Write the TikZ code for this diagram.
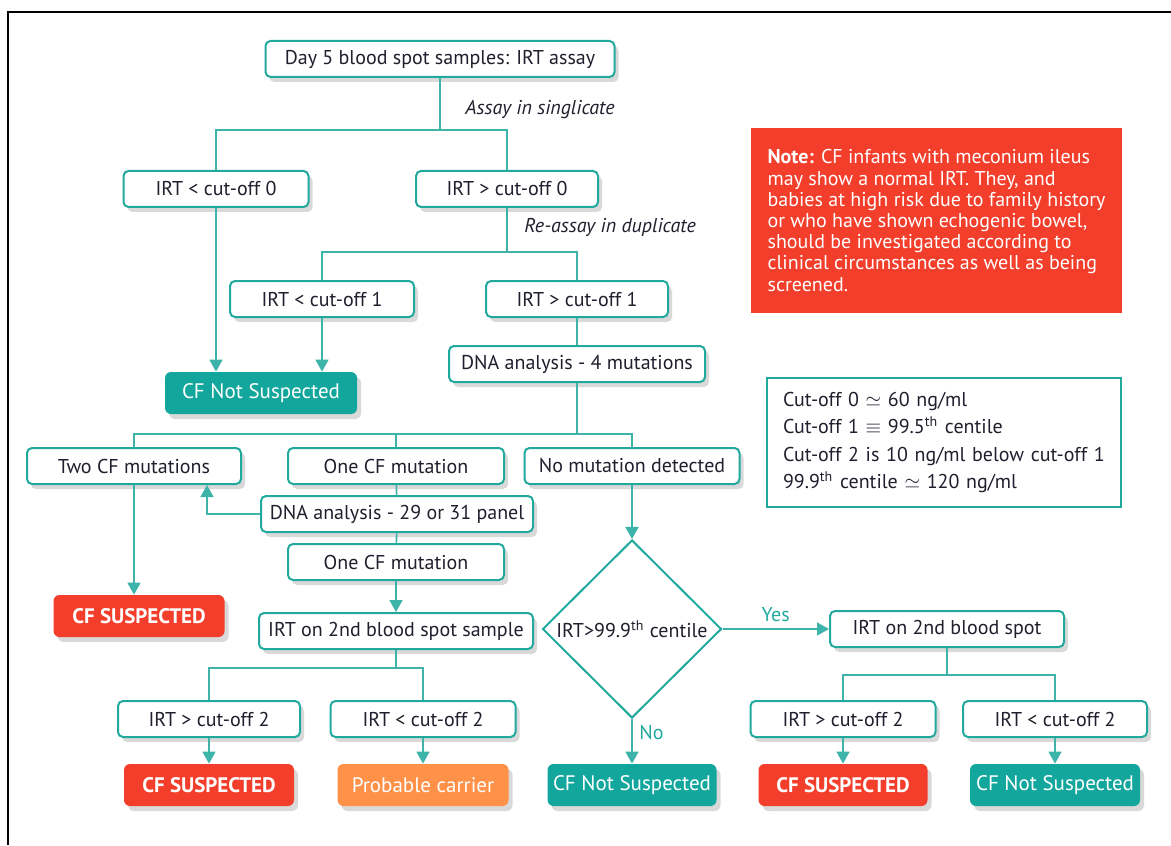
\documentclass[tikz,border=0pt]{standalone}
\usepackage{fontspec}
\setmainfont{PT Sans}
\usepackage{tikz}
\usetikzlibrary{shapes.geometric,arrows.meta,positioning,shadows,calc}
\definecolor{cfteal}{HTML}{22A99E}
\definecolor{cfline}{HTML}{3DB3A9}
\definecolor{cftealfill}{HTML}{12A69C}
\definecolor{cfred}{HTML}{F33E2B}
\definecolor{cforange}{HTML}{FF9148}
\definecolor{cftext}{HTML}{1F1F2E}

\begin{document}
\begin{tikzpicture}[x=0.5pt, y=-0.5pt,
    box/.style={draw=cfteal, fill=white, rounded corners=2.5pt, line width=1pt, text=cftext, font=\fontsize{10}{12}\selectfont, minimum height=18pt, inner sep=1pt, drop shadow={shadow xshift=2pt, shadow yshift=-2.5pt, opacity=0.3}},
    result/.style={rounded corners=3pt, text=white, font=\fontsize{10.5}{12}\selectfont, minimum height=21pt, inner sep=1pt, drop shadow={shadow xshift=2pt, shadow yshift=-2.5pt, opacity=0.3}},
    ok/.style={result, fill=cftealfill},
    bad/.style={result, fill=cfred, font=\fontsize{10.5}{12}\selectfont\bfseries},
    carrier/.style={result, fill=cforange},
    link/.style={draw=cfline, line width=0.8pt},
    flow/.style={link, -{Triangle[width=6.5pt, length=6pt]}},
    step_lbl/.style={font=\fontsize{10}{12}\selectfont\itshape, text=cftext},
    yn/.style={font=\fontsize{10}{12}\selectfont, text=cfteal}
]
    \useasboundingbox (0,0) rectangle (1171,845);
    % Frame
    \draw[line width=1.3pt] (8,845) -- (8,12) -- (1171,12);

    % First sample
    \node[box, minimum width=174.5pt] (day5) at (440,59) {Day 5 blood spot samples: IRT assay};
    \node[box, minimum width=92.5pt] (lt0) at (216,189) {IRT < cut-off 0};
    \node[box, minimum width=91pt] (gt0) at (507,189) {IRT > cut-off 0};

    % Re-assay
    \node[box, minimum width=92pt] (lt1) at (322,299) {IRT < cut-off 1};
    \node[box, minimum width=91pt] (gt1) at (577,299) {IRT > cut-off 1};
    \node[ok, minimum width=96pt] (cfns1) at (261,393) {CF Not Suspected};
    \node[box, minimum width=128pt] (dna4) at (577,364) {DNA analysis - 4 mutations};

    % Note and cut-off values
    \node[fill=cfred, text=white, minimum width=185.5pt, minimum height=92.5pt, align=left, inner sep=5pt, font=\fontsize{10}{10.6}\selectfont] (note) at (936.5,220.5) {\textbf{Note:} CF infants with meconium ileus\\may show a normal IRT. They, and\\babies at high risk due to family history\\or who have shown echogenic bowel,\\should be investigated according to\\clinical circumstances as well as being\\screened.};
    \node[draw=cfteal, line width=1pt, minimum width=177pt, minimum height=64.5pt, text width=161pt, align=left, inner xsep=8pt, text=cftext, font=\fontsize{10}{13.75}\selectfont] (cutoffs) at (944,442.5) {Cut-off 0 $\simeq$ 60 ng/ml\\Cut-off 1 $\equiv$ 99.5\textsuperscript{th} centile\\Cut-off 2 is 10 ng/ml below cut-off 1\\99.9\textsuperscript{th} centile $\simeq$ 120 ng/ml};

    % DNA results
    \node[box, minimum width=107pt] (two) at (134,466) {Two CF mutations};
    \node[box, minimum width=108pt] (one) at (396,466) {One CF mutation};
    \node[box, minimum width=107.5pt] (nomut) at (632,466) {No mutation detected};
    \node[box, minimum width=136pt] (dna29) at (397,514) {DNA analysis - 29 or 31 panel};
    \node[box, minimum width=108pt] (one2) at (396,562) {One CF mutation};
    \node[box, minimum width=137pt] (irt2s) at (396,631) {IRT on 2nd blood spot sample};
    \node[bad, minimum width=85.5pt] (cfs1) at (139,616) {CF SUSPECTED};

    % Second sample, left
    \node[box, minimum width=91pt] (gt2) at (209,719) {IRT > cut-off 2};
    \node[box, minimum width=92.5pt] (lt2) at (423,719) {IRT < cut-off 2};
    \node[bad, minimum width=85pt] (cfs2) at (209,785) {CF SUSPECTED};
    \node[carrier, minimum width=85.5pt] (prob) at (423,785) {Probable carrier};

    % No mutation branch
    \node[diamond, draw=cfteal, line width=1pt, fill=white, aspect=1, inner sep=0pt, minimum width=89.5pt, minimum height=89pt, text=cftext, font=\fontsize{10}{12}\selectfont] (check) at (632,629) {IRT>99.9\textsuperscript{th} centile};
    \node[ok, minimum width=84.5pt] (cfns2) at (632,785) {CF Not Suspected};
    \node[box, minimum width=117pt] (irt2b) at (947,629) {IRT on 2nd blood spot};
    \node[box, minimum width=92.5pt] (gt2r) at (843,719) {IRT > cut-off 2};
    \node[box, minimum width=92pt] (lt2r) at (1055,719) {IRT < cut-off 2};
    \node[bad, minimum width=84.5pt] (cfs3) at (843,785) {CF SUSPECTED};
    \node[ok, minimum width=85pt] (cfns3) at (1055,785) {CF Not Suspected};

    % Split points
    \coordinate (s1) at (440,130);
    \coordinate (s2) at (507,252);
    \coordinate (s3) at (577,434);
    \coordinate (s4) at (396,668);
    \coordinate (s5) at (947,675);

    % Connectors
    \draw[link] (day5.south) -- node[step_lbl, right=9pt, pos=0.6] {Assay in singlicate} (s1);
    \draw[link] (lt0.north) |- (s1) -| (gt0.north);
    \draw[flow] (lt0.south) -- (lt0.south |- cfns1.north);
    \draw[link] (gt0.south) -- node[step_lbl, right=5pt, pos=0.45] {Re-assay in duplicate} (s2);
    \draw[link] (lt1.north) |- (s2) -| (gt1.north);
    \draw[flow] (lt1.south) -- (lt1.south |- cfns1.north);
    \draw[link] (gt1) -- (dna4);
    \draw[link] (dna4.south) -- (s3);
    \draw[link] (two.north) |- (s3) -| (nomut.north);
    \draw[link] (one.north) -- (one.north |- s3);
    \draw[link] (one) -- (dna29);
    \draw[link] (dna29) -- (one2);
    \draw[flow] (dna29.west) -| ([xshift=36.5pt]two.south);
    \draw[flow] (one2) -- (irt2s);
    \draw[flow] (two.south) -- (two.south |- cfs1.north);
    \draw[flow] (nomut) -- (check);
    \draw[flow] (check) -- node[yn, above] {Yes} (irt2b);
    \draw[flow] (check.south) -- node[yn, right, pos=0.3] {No} (cfns2.north);
    \draw[link] (irt2s.south) -- (s4);
    \draw[link] (gt2.north) |- (s4) -| (lt2.north);
    \draw[flow] (gt2) -- (cfs2);
    \draw[flow] (lt2) -- (prob);
    \draw[link] (irt2b.south) -- (s5);
    \draw[link] (gt2r.north) |- (s5) -| (lt2r.north);
    \draw[flow] (gt2r) -- (cfs3);
    \draw[flow] (lt2r) -- (cfns3);

\end{tikzpicture}
\end{document}
